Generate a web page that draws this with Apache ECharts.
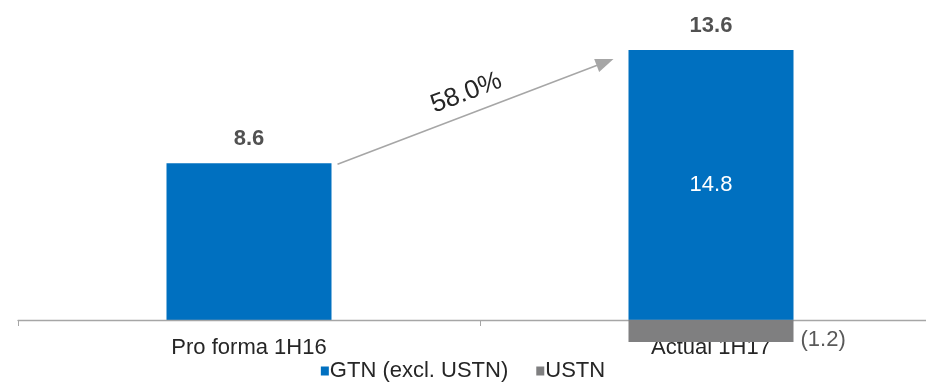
<!DOCTYPE html>
<html>
<head>
<meta charset="utf-8">
<style>
  html, body { margin: 0; padding: 0; background: #ffffff; }
  #chart { width: 926px; height: 382px; }
</style>
<script src="https://cdn.jsdelivr.net/npm/echarts@6/dist/echarts.min.js"></script>
</head>
<body>
<div id="chart"></div>
<script>
// Period labels on the category axis
var categories = ['Pro forma 1H16', 'Actual 1H17'];
// GTN excluding USTN (positive stack)
var gtnValues = [8.6, 14.8];
// USTN contribution (negative stack)
var ustnValues = [0, -1.2];
// Period totals shown above each column
var totals = [8.6, 13.6];
// Growth between the two periods
var growthLabel = '58.0%';

var FONT = '"Liberation Sans", Arial, sans-serif';
var BLUE = '#0070C0';
var GREY = '#7F7F80';
var TEXT = '#262626';
var BAR_W = 165;

var chart = echarts.init(document.getElementById('chart'));

var option = {
  animation: false,
  textStyle: { fontFamily: FONT },
  // the zero line sits on the bottom edge of the plot area
  grid: { left: 18, width: 924, top: 10, height: 310, outerBoundsMode: 'none', containLabel: false },
  legend: {
    top: 360,
    left: 'center',
    padding: 0,
    data: ['GTN (excl. USTN)', 'USTN'],
    icon: 'rect',
    itemWidth: 8,
    itemHeight: 9,
    itemGap: 28,
    textStyle: { fontSize: 22, color: TEXT, fontFamily: FONT, padding: [0, 0, 0, -4] }
  },
  xAxis: {
    type: 'category',
    data: categories,
    axisLine: { onZero: false, lineStyle: { color: '#A6A6A6', width: 1.3 } },
    axisTick: { show: true, length: 6, interval: 0, lineStyle: { color: '#A6A6A6' } },
    axisLabel: { fontSize: 22, color: TEXT, margin: 17, fontFamily: FONT },
    z: 3
  },
  yAxis: {
    type: 'value',
    min: 0,
    max: 17,
    show: false,
    splitLine: { show: false }
  },
  series: [
    {
      name: 'GTN (excl. USTN)',
      type: 'bar',
      stack: 'total',
      barWidth: BAR_W,
      clip: false,
      itemStyle: { color: BLUE },
      data: gtnValues.map(function (v, i) {
        // inner value label only where the column has a negative component
        return { value: v, label: { show: ustnValues[i] !== 0 } };
      }),
      label: {
        position: 'inside',
        color: '#ffffff',
        fontSize: 22,
        fontFamily: FONT,
        formatter: function (p) { return p.value.toFixed(1); }
      }
    },
    {
      name: 'USTN',
      type: 'bar',
      stack: 'total',
      barWidth: BAR_W,
      clip: false,
      z: 4,
      itemStyle: { color: GREY },
      data: ustnValues.map(function (v) {
        return { value: v, label: { show: v !== 0 } };
      }),
      label: {
        position: 'right',
        distance: 7,
        offset: [0, 9],
        color: '#595959',
        fontSize: 22,
        fontFamily: FONT,
        formatter: function (p) {
          var v = p.value;
          return v < 0 ? '(' + Math.abs(v).toFixed(1) + ')' : v.toFixed(1);
        }
      }
    },
    {
      name: 'Total',
      type: 'scatter',
      symbolSize: 0,
      silent: true,
      data: gtnValues.map(function (v, i) { return [i, v, totals[i]]; }),
      label: {
        show: true,
        position: 'top',
        distance: 13.5,
        color: TEXT,
        fontSize: 22,
        fontWeight: 'bold',
        fontFamily: FONT,
        formatter: function (p) { return p.value[2].toFixed(1); }
      }
    }
  ]
};

chart.setOption(option);

// Growth arrow from the first column's top to the second column's top
var a = chart.convertToPixel({ seriesIndex: 0 }, [0, gtnValues[0]]);
var b = chart.convertToPixel({ seriesIndex: 0 }, [1, gtnValues[1]]);
var sx = a[0] + BAR_W / 2 + 6, sy = a[1] + 1;
var ex = b[0] - BAR_W / 2 - 15, ey = b[1] + 9;
var dx = ex - sx, dy = ey - sy;
var len = Math.sqrt(dx * dx + dy * dy);
var ux = dx / len, uy = dy / len;
var headLen = 18, headHalf = 7;
var bx = ex - ux * headLen, by = ey - uy * headLen;
var nx = -uy, ny = ux;
var mx = (sx + ex) / 2, my = (sy + ey) / 2;
var angle = Math.atan2(-dy, dx);

chart.setOption({
  graphic: [
    {
      type: 'line',
      silent: true,
      shape: { x1: sx, y1: sy, x2: bx + ux * 2, y2: by + uy * 2 },
      style: { stroke: '#A6A6A6', lineWidth: 1.5 }
    },
    {
      type: 'polygon',
      silent: true,
      shape: { points: [[ex, ey], [bx + nx * headHalf, by + ny * headHalf], [bx - nx * headHalf, by - ny * headHalf]] },
      style: { fill: '#A6A6A6' }
    },
    {
      type: 'text',
      silent: true,
      x: mx - 2,
      y: my,
      rotation: angle,
      style: {
        text: growthLabel,
        x: 0,
        y: -20,
        fill: TEXT,
        font: '26px ' + FONT,
        align: 'center',
        verticalAlign: 'middle'
      }
    }
  ]
});
</script>
</body>
</html>
